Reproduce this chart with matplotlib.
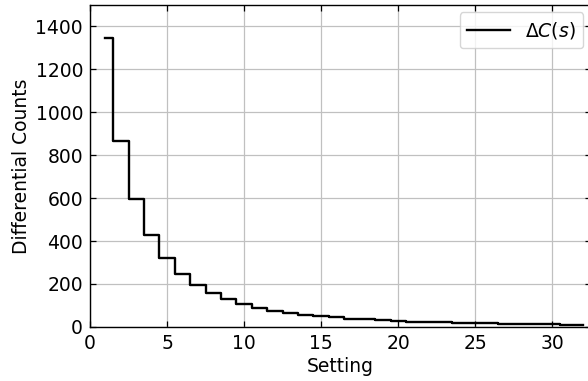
import matplotlib
matplotlib.use("Agg")
import matplotlib.pyplot as plt
import numpy as np

settings = list(range(1, 33))
counts = [1347, 866, 595, 430, 322, 248, 195, 158, 128, 107, 89, 76, 66, 57, 50,
          44, 39, 35, 31, 28, 25, 23, 21, 19, 18, 16, 15, 14, 13, 12, 11, 10]

fs = 13.5
fig = plt.figure(figsize=(5.88, 3.81), dpi=100)
ax = fig.add_axes([0.153, 0.142, 0.852, 0.845])
ax.step(settings, counts, where='mid', color='black', lw=1.7, label=r'$\Delta C(s)$')
ax.set_xlim(0, 32.5)
ax.set_ylim(0, 1500)
ax.set_xticks([0, 5, 10, 15, 20, 25, 30])
ax.set_yticks(range(0, 1401, 200))
ax.grid(True, color='#c0c0c0', lw=0.9)
ax.tick_params(direction='in', top=True, right=True, labelsize=fs, pad=5, length=4, width=0.9)
for s in ax.spines.values():
    s.set_linewidth(1.0)
ax.set_xlabel('Setting', fontsize=fs, labelpad=3)
ax.set_ylabel('Differential Counts', fontsize=fs, labelpad=3)
ax.legend(loc='upper right', fontsize=fs, handlelength=2.3, borderaxespad=0.4)
fig.savefig('out.png', dpi=100)
